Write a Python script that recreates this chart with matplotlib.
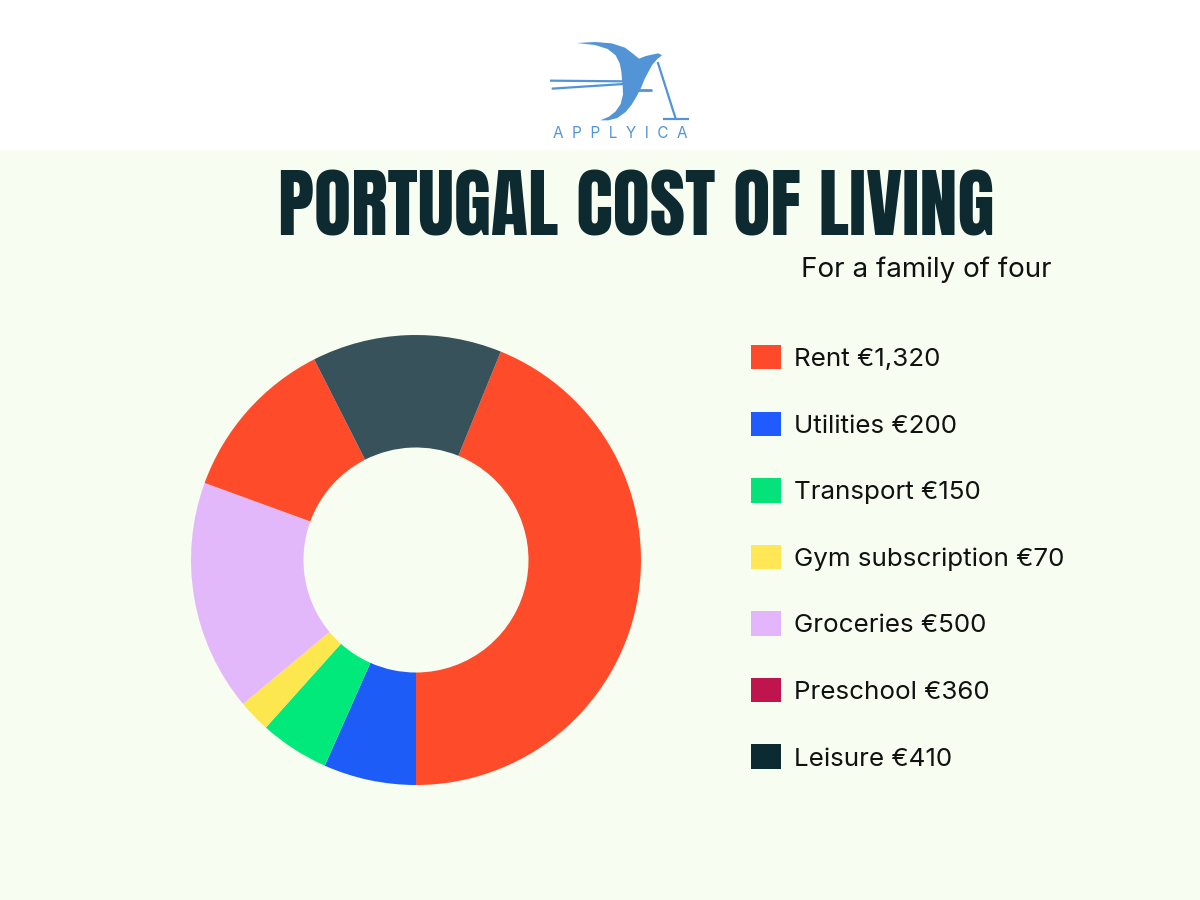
import matplotlib
matplotlib.use('Agg')
import matplotlib.pyplot as plt
from matplotlib.patches import Patch, Rectangle, Polygon

# data
categories = ['Rent', 'Utilities', 'Transport', 'Gym subscription', 'Groceries', 'Preschool', 'Leisure']
costs = [1320, 200, 150, 70, 500, 360, 410]
# the ring uses slightly different colours than the legend (preschool drawn in rent red)
ring_colors = ['#fe4b2a', '#1e5cf8', '#02e97b', '#fde74f', '#e3b8fb', '#fe4b2a', '#37525a']
legend_colors = ['#fe4a2a', '#1f5bff', '#05e27a', '#ffe756', '#e3b5fb', '#c0144f', '#0b2a32']

BG = '#f8fdf2'
DARK = '#0d2a30'
LOGO_BLUE = '#5294d6'

plt.rcParams['font.family'] = ['Inter', 'DejaVu Sans']

fig = plt.figure(figsize=(12, 9), dpi=100, facecolor=BG)

# background layer in pixel coordinates (white band + logo)
bg = fig.add_axes([0, 0, 1, 1], zorder=0)
bg.set_xlim(0, 1200)
bg.set_ylim(900, 0)
bg.axis('off')
bg.add_patch(Rectangle((0, 0), 1200, 150, color='white', lw=0))


def logo_xy(pts):
    return [(x / 3 + 545, y / 3 + 38) for x, y in pts]


bird = [(95, 15), (150, 12), (200, 16), (240, 29), (265, 48), (282, 62),
        (300, 55), (320, 50), (340, 46), (351, 52), (338, 62), (322, 80), (310, 102),
        (298, 125), (288, 150), (275, 175), (260, 200), (242, 222), (217, 240), (190, 247),
        (166, 247), (192, 236), (212, 220), (227, 198), (234, 170), (233, 140),
        (231, 125), (229, 100), (224, 76), (212, 52), (188, 33), (150, 21)]
bg.add_patch(Polygon(logo_xy(bird), closed=True, color=LOGO_BLUE, lw=0))
for seg, w in (([(278, 155), (322, 155)], 2.0), ([(15, 128), (236, 130)], 1.6),
               ([(20, 152), (236, 138)], 1.6), ([(338, 72), (392, 242)], 1.6),
               ([(355, 243), (432, 243)], 1.6)):
    (x0, y0), (x1, y1) = logo_xy(seg)
    bg.plot([x0, x1], [y0, y1], color=LOGO_BLUE, lw=w, solid_capstyle='butt')
bg.text(620, 133, 'A  P  P  L  Y  I  C  A', color=LOGO_BLUE, fontsize=11, ha='center',
        va='center', family=['Inter', 'DejaVu Sans'])

# title and subtitle
fig.text(636 / 1200, 1 - 235 / 900, 'PORTUGAL COST OF LIVING', family=['Anton', 'DejaVu Sans'],
         fontsize=55, color=DARK, ha='center', va='baseline')
fig.text(1052 / 1200, 1 - 277 / 900, 'For a family of four', fontsize=20, color='#111111',
         ha='right', va='baseline')

# donut
ax = fig.add_axes([191 / 1200, 1 - 785 / 900, 450 / 1200, 450 / 900], zorder=1)
ax.pie(costs, colors=ring_colors, counterclock=False,
       startangle=-90 + 360 * costs[0] / sum(costs),
       wedgeprops=dict(width=0.5, linewidth=0))
ax.set_xlim(-1, 1)
ax.set_ylim(-1, 1)
ax.set_aspect('equal')

# legend
labels = [f'{c} €{v:,}' for c, v in zip(categories, costs)]
handles = [Patch(facecolor=col, edgecolor='none') for col in legend_colors]
fig.legend(handles, labels, loc='upper left', bbox_to_anchor=(751 / 1200, 1 - 345 / 900),
           frameon=False, fontsize=18.7, handlelength=1.17, handleheight=1.07, handletextpad=0.5,
           labelspacing=1.56, borderpad=0, borderaxespad=0, labelcolor='#111111')

fig.savefig('out.png', dpi=100, facecolor=BG)
